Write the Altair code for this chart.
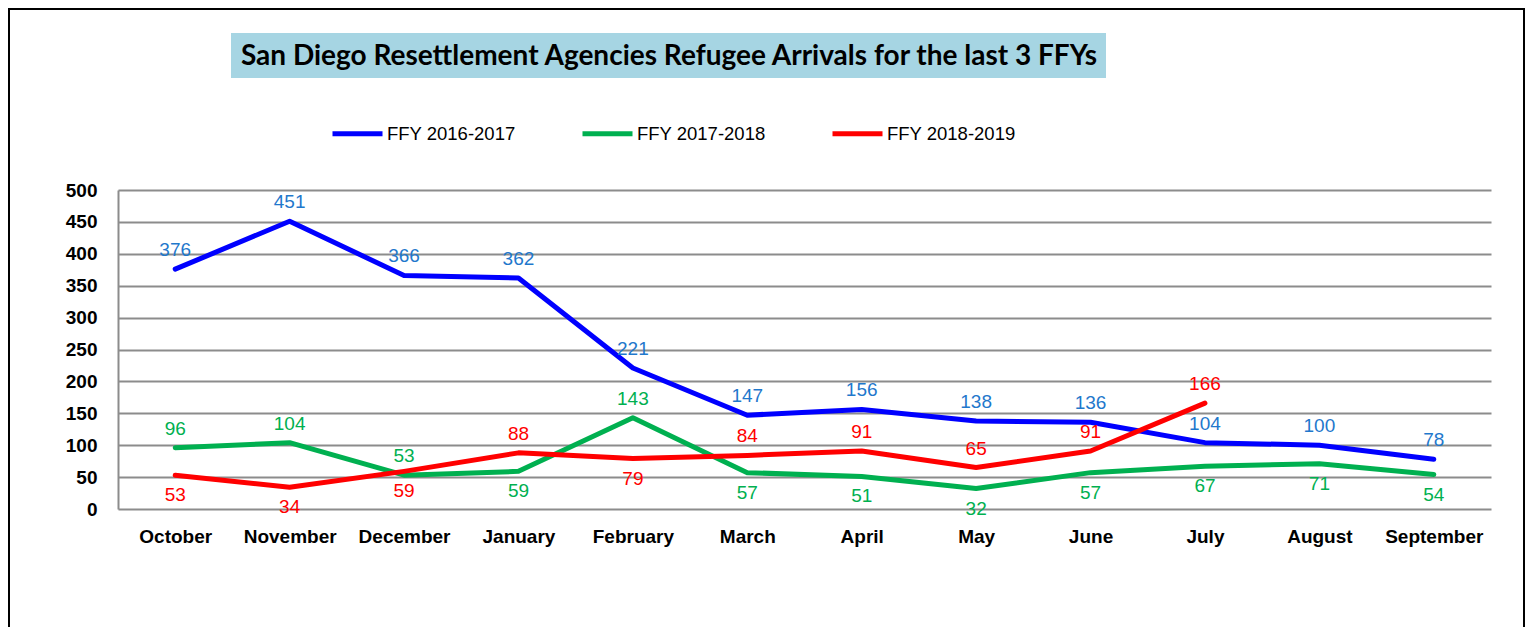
import altair as alt
import pandas as pd

months = ["October", "November", "December", "January", "February", "March",
          "April", "May", "June", "July", "August", "September"]
series_names = ["FFY 2016-2017", "FFY 2017-2018", "FFY 2018-2019"]

ffy_2016_2017 = [376, 451, 366, 362, 221, 147, 156, 138, 136, 104, 100, 78]
ffy_2017_2018 = [96, 104, 53, 59, 143, 57, 51, 32, 57, 67, 71, 54]
ffy_2018_2019 = [53, 34, 59, 88, 79, 84, 91, 65, 91, 166, None, None]

# where each data label sits relative to its point
side_2016_2017 = ["above"] * 12
side_2017_2018 = ["above", "above", "above", "below", "above", "below",
                  "below", "below", "below", "below", "below", "below"]
side_2018_2019 = ["below", "below", "below", "above", "below", "above",
                  "above", "above", "above", "above", None, None]

title_text = "San Diego Resettlement Agencies Refugee Arrivals for the last 3 FFYs"

line_colors = ["#0000FF", "#00B050", "#FF0000"]
label_colors = ["#1F78CC", "#00B050", "#FF0000"]

rows = []
for name, vals, sides in zip(series_names,
                             [ffy_2016_2017, ffy_2017_2018, ffy_2018_2019],
                             [side_2016_2017, side_2017_2018, side_2018_2019]):
    for m, v, s in zip(months, vals, sides):
        rows.append({"month": m, "series": name, "value": v, "side": s})
df = pd.DataFrame(rows)

W, H = 1373, 319
AXIS_FONT = "Liberation Sans"

x_enc = alt.X("month:N", sort=months, scale=alt.Scale(padding=0.5),
              axis=alt.Axis(title=None, labelFont=AXIS_FONT, labelFontSize=19,
                            labelFontWeight="bold", labelColor="black",
                            labelPadding=18, domain=False, ticks=False,
                            grid=False, labelAngle=0))
y_enc = alt.Y("value:Q", scale=alt.Scale(domain=[0, 500], nice=False),
              axis=alt.Axis(title=None, values=list(range(0, 501, 50)),
                            labelFont=AXIS_FONT, labelFontSize=19,
                            labelFontWeight="bold", labelColor="black",
                            labelPadding=21, ticks=False,
                            domain=True, domainColor="#8C8C8C", domainWidth=2,
                            grid=True, gridColor="#8C8C8C", gridWidth=2))

base = alt.Chart(df)

lines = base.mark_line(strokeWidth=5, strokeCap="round", strokeJoin="round").encode(
    x=x_enc, y=y_enc,
    color=alt.Color("series:N", sort=series_names,
                    scale=alt.Scale(domain=series_names, range=line_colors),
                    legend=alt.Legend(title=None, orient="none", direction="horizontal",
                                      legendX=212, legendY=-84,
                                      symbolType="stroke", symbolSize=2500,
                                      symbolStrokeWidth=5, labelFont=AXIS_FONT,
                                      labelFontSize=18.5, labelColor="black",
                                      labelOffset=2, columnPadding=56,
                                      labelLimit=300)),
)

label_color = alt.Color("series:N", scale=alt.Scale(domain=series_names, range=label_colors),
                        legend=None)
labels_above = base.transform_filter(alt.datum.side == "above").mark_text(
    font=AXIS_FONT, fontSize=19, dy=-19, baseline="middle").encode(
    x=x_enc, y=y_enc, text=alt.Text("value:Q"), color=label_color)
labels_below = base.transform_filter(alt.datum.side == "below").mark_text(
    font=AXIS_FONT, fontSize=19, dy=20, baseline="middle").encode(
    x=x_enc, y=y_enc, text=alt.Text("value:Q"), color=label_color)

one = alt.Chart(pd.DataFrame({"t": [title_text]}))
title_box = one.mark_rect(color="#A6D5E3").encode(
    x=alt.value(113), x2=alt.value(988), y=alt.value(-157), y2=alt.value(-112))
title = one.mark_text(font="Lato", fontSize=28, fontWeight="bold", color="black",
                      baseline="middle", align="center").encode(
    x=alt.value(551), y=alt.value(-133), text="t:N")

frame_left = one.mark_rule(color="black", strokeWidth=2).encode(
    x=alt.value(-109), y=alt.value(-181), y2=alt.value(460))
frame_top = one.mark_rule(color="black", strokeWidth=2).encode(
    x=alt.value(-110), x2=alt.value(1407), y=alt.value(-181))
frame_right = one.mark_rule(color="black", strokeWidth=2).encode(
    x=alt.value(1406), y=alt.value(-181), y2=alt.value(460))

chart = alt.layer(
    frame_left, frame_top, frame_right, title_box, title,
    lines, labels_above, labels_below
).resolve_scale(color="independent").properties(
    width=W, height=H,
    padding={"left": 110, "top": 182, "right": 34, "bottom": 118},
    autosize=alt.AutoSizeParams(type="none"),
    background="white",
).configure_view(stroke=None)

chart.save("out.html", embed_options={"renderer": "svg", "actions": False})
